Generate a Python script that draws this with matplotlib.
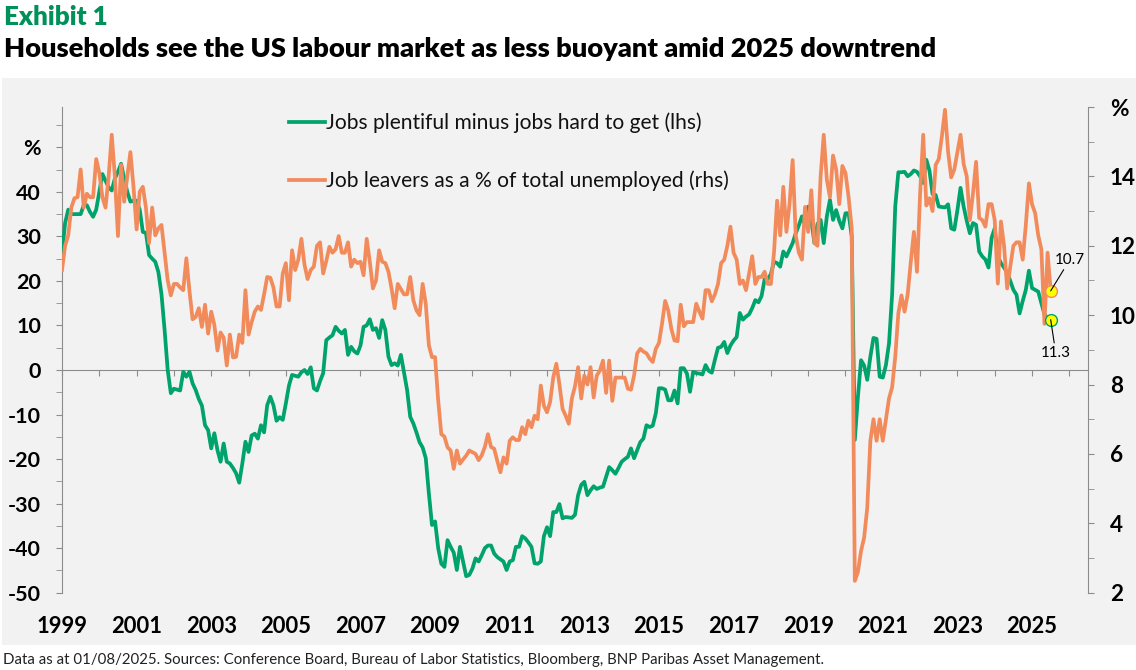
import matplotlib
matplotlib.use("Agg")
import matplotlib.pyplot as plt
import numpy as np
from matplotlib.patches import Rectangle

plt.rcParams["font.family"] = ["Lato", "DejaVu Sans"]

# ---------------- data (monthly, Jan 1999 - Jul 2025) ----------------
start_year = 1999
jobs_diff = [  # Jobs plentiful minus jobs hard to get (lhs)
    26, 33, 36, 35, 35, 35, 35, 37, 37, 35.5, 34.4, 36,                      # 1999
    40, 44, 42.5, 41, 40.3, 43, 44.5, 46.3, 43, 40, 37.8, 38,                # 2000
    38, 36, 31, 30.8, 25.8, 25, 24.3, 22, 17, 9, 0, -5.2,                    # 2001
    -4.2, -4.4, -4.6, -0.4, -1.5, -0.4, -3, -4.5, -6.5, -8, -12.4, -13.5,    # 2002
    -17.6, -14.2, -18, -20.6, -16.5, -20.6, -21, -22, -23.2, -25.3, -21, -16.1,  # 2003
    -18.4, -14.7, -14.3, -15.4, -12.4, -14, -7.9, -6, -7.9, -11.4, -10.6, -11.2,  # 2004
    -7.5, -3.5, -1.1, -1.3, -1.5, -0.5, 0, -0.9, 0.6, -4.1, -4.6, -2.5,      # 2005
    -0.7, 6.7, 7.3, 7.8, 9.7, 8.8, 8.2, 9, 3.4, 5.2, 4.2, 3.7,               # 2006
    5.5, 9.7, 10, 11.4, 9, 9.4, 7.2, 11.2, 9, 3, 1.1, 1.5,                   # 2007
    1.0, 3.4, -0.5, -4.5, -10.5, -12, -14, -16.2, -17.4, -19.8, -27.7, -34.8,  # 2008
    -34, -40, -43.5, -44.2, -38.2, -39.7, -41, -44.9, -39.7, -43, -46.3, -46,  # 2009
    -44.6, -42.3, -43, -41.6, -40, -39.4, -39.4, -41.2, -42, -42.5, -43, -44.9,  # 2010
    -43, -42.7, -39.7, -39.7, -37.3, -37.8, -38.7, -39.7, -43.4, -43.5, -43, -37.3,  # 2011
    -35.3, -37.3, -31.9, -31.9, -30.1, -33.3, -33, -33.1, -33.2, -32.5, -28.1, -25.8,  # 2012
    -25.1, -28.1, -27, -26.1, -26.7, -26.4, -26.2, -24, -21.8, -22.5, -23.3, -22,  # 2013
    -20.6, -20, -19.5, -17.6, -19.8, -18, -16.2, -15.4, -12.4, -12.8, -12.5, -9.7,  # 2014
    -4.1, -4.1, -4.4, -6.8, -6.8, -4.6, -7.5, 0.4, 0.4, -0.8, -4.9, -0.4,    # 2015
    -0.7, -0.8, -1, 1.1, -0.2, -0.6, 2.3, 5, 5.2, 6.3, 3.8, 5.5,             # 2016
    6.6, 7.4, 12.8, 11.3, 12, 12.5, 13.9, 15.7, 15.2, 16.6, 20.4, 20.4,      # 2017
    21.5, 24.3, 24, 23.2, 26.6, 25.5, 27, 28.5, 30.7, 32.5, 34.5, 32.3,      # 2018
    36.7, 33.7, 28.5, 32.8, 33.7, 28.5, 34.5, 38.2, 33.7, 35.9, 33.5, 31.8,  # 2019
    35.2, 35.2, 30, -15.7, -6, 2.2, 1, -2.2, 3, 7.2, 7, -1.5,                # 2020
    -1.7, 1.1, 6, 17, 36.7, 44.4, 44.4, 44.5, 43.5, 44, 44.8, 44.5,          # 2021
    43.5, 42, 47.2, 44.8, 39.5, 39.3, 36.7, 36.6, 36.5, 37.2, 31.8, 31.5,    # 2022
    35.9, 40.9, 36.7, 33.5, 30.7, 33, 32.6, 26.6, 25.5, 24.8, 23, 29.7,      # 2023
    31.8, 25.5, 24, 23, 21.9, 20, 18, 16.9, 12.7, 15.5, 18, 22.3,            # 2024
    18.4, 18, 17.6, 15, 12.5, 11.6, 11.3,                                    # 2025
]
job_leavers = [  # Job leavers as a % of total unemployed (rhs)
    11.3, 12.0, 12.3, 13.1, 13.37, 13.4, 14.2, 13.1, 13.5, 13.4, 13.4, 14.5,       # 1999
    14.1, 13.4, 13.1, 14.0, 15.2, 14.0, 12.28, 14.33, 13.27, 14.0, 14.7, 13.7,     # 2000
    12.47, 13.56, 13.7, 13.1, 12.08, 13.1, 12.3, 12.5, 12.6, 11.8, 11.0, 10.57,    # 2001
    10.9, 10.9, 10.8, 10.72, 11.64, 10.7, 9.88, 9.95, 10.2, 9.66, 10.3, 9.47,      # 2002
    10.1, 9.72, 8.98, 9.5, 9.35, 8.55, 9.44, 8.78, 8.8, 9.44, 9.2, 10.72,          # 2003
    9.44, 9.8, 10.1, 10.25, 10.15, 10.6, 11.1, 11.08, 10.8, 10.25, 10.25, 11.2,    # 2004
    11.5, 10.43, 11.87, 11.3, 11.6, 12.2, 11.45, 11.04, 11.3, 11.4, 12.0, 12.1,    # 2005
    11.2, 11.56, 11.97, 11.8, 11.9, 12.28, 11.8, 11.8, 12.1, 11.4, 11.6, 11.5,     # 2006
    11.54, 11.15, 12.2, 11.54, 10.77, 11.0, 11.87, 11.54, 11.5, 11.25, 10.77, 10.2,  # 2007
    10.9, 10.75, 10.6, 10.6, 11.1, 10.43, 10.14, 10.0, 10.9, 10.33, 9.13, 8.79,    # 2008
    8.79, 7.54, 6.57, 6.5, 6.19, 6.1, 5.57, 6.1, 5.72, 5.84, 5.95, 6.1,            # 2009
    6.05, 6.0, 5.82, 5.96, 6.2, 6.57, 6.2, 6.15, 5.8, 5.47, 5.9, 5.72,             # 2010
    6.38, 6.48, 6.4, 6.4, 6.77, 6.57, 6.96, 6.77, 7.1, 7.0, 7.97, 7.39,            # 2011
    7.2, 7.5, 8.2, 8.6, 8.0, 7.3, 7.1, 6.87, 7.6, 7.95, 8.5, 7.6,                  # 2012
    8.26, 8.0, 8.5, 7.63, 8.26, 8.4, 8.69, 7.76, 8.69, 7.53, 8.2, 8.2,             # 2013
    8.2, 8.2, 7.88, 7.85, 8.26, 8.9, 9.03, 8.95, 8.9, 8.75, 8.65, 9.03,            # 2014
    9.2, 9.76, 10.41, 10.13, 9.6, 9.27, 9.25, 10.3, 9.68, 9.8, 9.8, 9.8,           # 2015
    10.33, 10.1, 9.9, 10.72, 10.72, 10.4, 10.6, 10.9, 11.5, 11.6, 12.0, 12.55,     # 2016
    11.8, 11.6, 10.9, 11.0, 10.72, 11.2, 11.7, 10.9, 11.1, 11.1, 11.25, 10.9,      # 2017
    10.9, 11.8, 13.3, 12.3, 13.7, 12.4, 13.2, 14.47, 12.3, 11.8, 11.6, 13.12,      # 2018
    12.4, 13.6, 12.08, 12.0, 14.0, 15.2, 13.9, 13.4, 14.6, 14.2, 13.2, 14.3,       # 2019
    14.1, 13.4, 12.5, 2.34, 2.6, 3.2, 3.59, 4.45, 6.38, 7.0, 6.38, 7.0,            # 2020
    6.38, 7.0, 7.6, 7.92, 8.8, 10.05, 10.57, 10.1, 10.6, 11.53, 12.4, 11.25,       # 2021
    13.5, 15.2, 13.16, 13.37, 13.0, 14.33, 14.5, 15.15, 15.92, 14.71, 13.97, 14.2,  # 2022
    14.7, 15.2, 14.36, 14.0, 12.74, 13.5, 14.42, 12.8, 12.74, 12.55, 13.2, 13.2,   # 2023
    12.74, 10.91, 12.7, 12.0, 10.77, 11.4, 12.0, 12.1, 12.1, 11.6, 12.6, 13.8,     # 2024
    13.2, 12.94, 12.3, 11.9, 9.75, 11.8, 10.7,                                     # 2025
]
series_labels = ["Jobs plentiful minus jobs hard to get (lhs)",
                 "Job leavers as a % of total unemployed (rhs)"]
left_ticks = list(range(-50, 51, 10))
left_ticklabels = [str(v) for v in range(-50, 41, 10)] + ["%"]
right_ticks = list(range(2, 17, 2))
right_ticklabels = [str(v) for v in range(2, 15, 2)] + ["%"]
year_labels = list(range(1999, 2026, 2))

title = "Households see the US labour market as less buoyant amid 2025 downtrend"
exhibit = "Exhibit 1"
footer = ("Data as at 01/08/2025. Sources: Conference Board, Bureau of Labor Statistics, "
          "Bloomberg, BNP Paribas Asset Management.")

# ---------------- styling ----------------
GREEN = "#00A36C"
ORANGE = "#F28B5C"
TITLE_GREEN = "#00915A"
GREY = "#8C8C8C"
W, H = 1136, 670

fig = plt.figure(figsize=(W / 100, H / 100), dpi=100)
fig.patch.set_facecolor("white")


def fx(px):
    return px / W


def fy(py):
    return 1 - py / H


fig.patches.append(Rectangle((fx(2), fy(645)), 1 - fx(2), fy(78) - fy(645),
                             transform=fig.transFigure, facecolor="#F2F2F2",
                             edgecolor="none", zorder=-5))
renderer = fig.canvas.get_renderer()


def fit(s, target, weight="normal", base=20.0):
    t = fig.text(0, 0, s, fontsize=base, fontweight=weight)
    w = t.get_window_extent(renderer=renderer).width
    t.remove()
    return base * target / w


fig.text(fx(4), fy(25), exhibit, fontsize=fit(exhibit, 104, "heavy"), fontweight="heavy",
         color=TITLE_GREEN, va="baseline", ha="left")
fig.text(fx(4), fy(57), title, fontsize=fit(title, 933, "heavy"), fontweight="heavy",
         color="black", va="baseline", ha="left")
fig.text(fx(3), fy(664), footer, fontsize=fit(footer, 818), color="#222222",
         va="baseline", ha="left")

ax = fig.add_axes([fx(62), fy(592.7), fx(1088) - fx(62), fy(107) - fy(592.7)])
ax.patch.set_visible(False)
ax2 = ax.twinx()

x = start_year + np.arange(len(jobs_diff)) / 12.0
x2 = start_year + np.arange(len(job_leavers)) / 12.0

LW = 2.7
l1, = ax.plot(x, jobs_diff, color=GREEN, lw=LW, solid_joinstyle="round", zorder=3)
l2, = ax2.plot(x2, job_leavers, color=ORANGE, lw=LW, solid_joinstyle="round", zorder=3)

ax.set_xlim(1999, 2026.5)
ax.set_ylim(-50, 59.05)
ax2.set_ylim(2, 16)

TW = "bold"
# left axis
for s in ["top", "right"]:
    ax.spines[s].set_visible(False)
ax.spines["left"].set_color(GREY)
ax.spines["bottom"].set_color(GREY)
ax.spines["bottom"].set_position(("data", 0))
ax.set_xticks(np.arange(1999, 2027))
ax.tick_params(axis="x", which="both", length=4.3, color=GREY, labelbottom=False)
ysz = fit("40", 25, TW)
ax.set_yticks(left_ticks, left_ticklabels, fontsize=ysz, fontweight=TW)
ax.set_yticks(np.arange(-45, 56, 10), minor=True)
ax.tick_params(axis="y", which="both", length=4.3, color=GREY, pad=10.8, labelcolor="black")

# right axis
for s in ["top", "left", "bottom"]:
    ax2.spines[s].set_visible(False)
ax2.spines["right"].set_color(GREY)
ax2.set_yticks(right_ticks, right_ticklabels, fontsize=ysz * 1.05, fontweight=TW)
ax2.set_yticks(np.arange(3, 16, 2), minor=True)
ax2.tick_params(axis="y", which="both", length=4.3, color=GREY, pad=11.5, labelcolor="black")

# year labels along the bottom
sec = ax.secondary_xaxis("bottom")
xsz = fit("1999", 50.7, TW)
sec.set_xticks(year_labels, [str(v) for v in year_labels], fontsize=xsz, fontweight=TW)
sec.tick_params(length=0, pad=17)
sec.spines["bottom"].set_visible(False)

# legend
lsz = fit(series_labels[0], 377)
leg = ax2.legend([l1, l2], series_labels, loc="upper left",
                 bbox_to_anchor=(fx(289), fy(110)), bbox_transform=fig.transFigure,
                 frameon=False, fontsize=lsz, handlelength=36 / (lsz * 100 / 72),
                 handletextpad=0.05, labelspacing=1.75, borderpad=0, borderaxespad=0)
fig.canvas.draw()
h0 = leg.legend_handles[0].get_window_extent(renderer)
h1 = leg.legend_handles[1].get_window_extent(renderer)
cy0 = H - (h0.y0 + h0.y1) / 2
cy1 = H - (h1.y0 + h1.y1) / 2
pitch = cy1 - cy0
ls_new = 1.75 + (58 - pitch) / (lsz * 100 / 72)
leg.remove()
leg = ax2.legend([l1, l2], series_labels, loc="upper left",
                 bbox_to_anchor=(fx(289), fy(110 + (121.7 - cy0))), bbox_transform=fig.transFigure,
                 frameon=False, fontsize=lsz, handlelength=36 / (lsz * 100 / 72),
                 handletextpad=0.05, labelspacing=ls_new, borderpad=0, borderaxespad=0)
for t in leg.get_texts():
    t.set_color("#111111")

# end-point markers and labels
asz = fit("10.7", 30)
ax2.plot(x2[-1], job_leavers[-1], "o", ms=8.5, mfc="#FFFF00", mec=ORANGE, mew=1.0, zorder=6)
ax2.plot(x[-1], jobs_diff[-1], "o", ms=8.5, mfc="#FFFF00", mec=GREEN, mew=1.0, zorder=6,
         transform=ax.transData)
ax2.annotate(f"{job_leavers[-1]:.1f}", xy=(x2[-1], job_leavers[-1]), xytext=(19, 31),
             textcoords="offset pixels", ha="center", va="center", fontsize=asz,
             arrowprops=dict(arrowstyle="-", color="black", lw=0.8, shrinkA=0, shrinkB=0),
             zorder=7)
ax2.annotate(f"{jobs_diff[-1]:.1f}", xy=(x[-1], jobs_diff[-1]), xycoords=ax.transData,
             xytext=(5, -33), textcoords="offset pixels", ha="center", va="center",
             fontsize=asz,
             arrowprops=dict(arrowstyle="-", color="black", lw=0.8, shrinkA=0, shrinkB=0),
             zorder=7)

fig.savefig("out.png", dpi=100, facecolor="white")
